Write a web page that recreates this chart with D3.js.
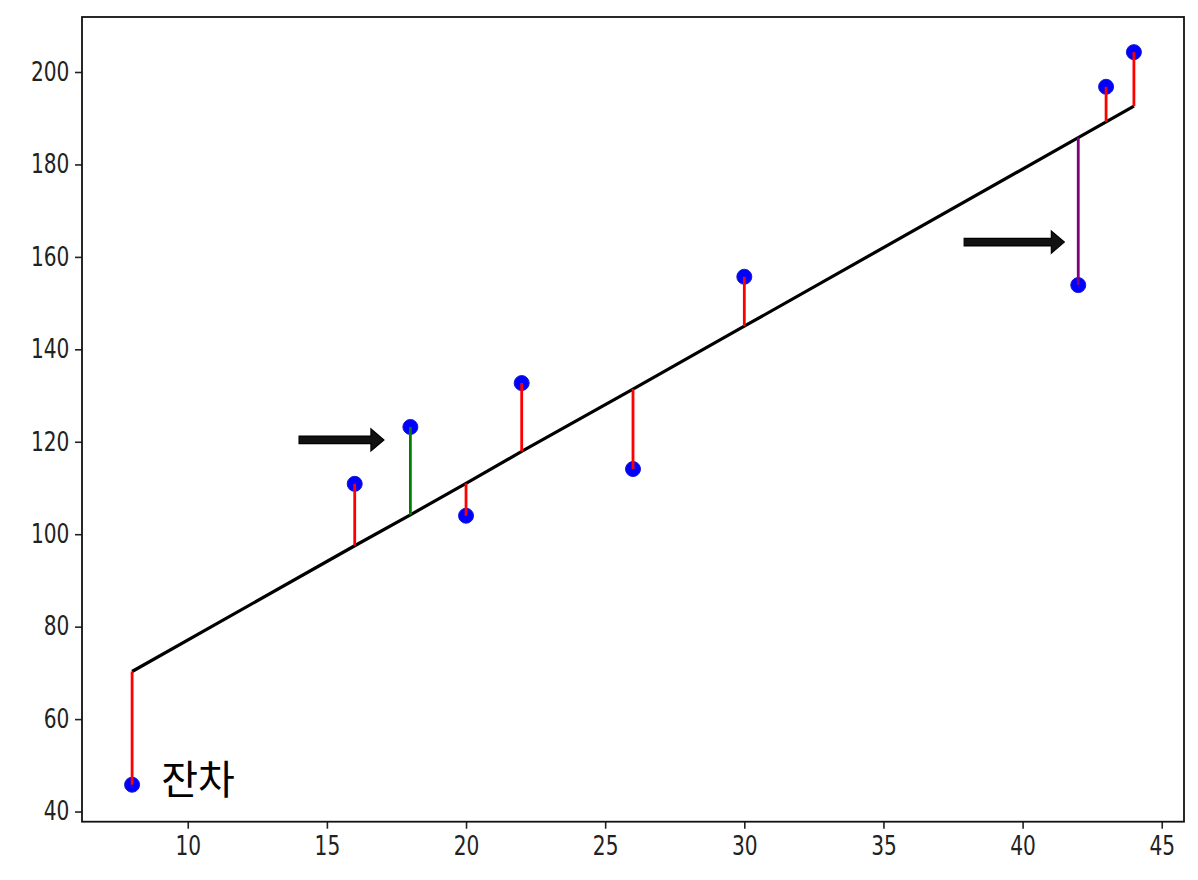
<!DOCTYPE html>
<html lang="ko">
<head>
<meta charset="UTF-8">
<title>잔차</title>
<script src="https://d3js.org/d3.v7.min.js"></script>
<style>
    body { margin: 0; background: #fff; }
    svg { display: block; }
    .tick text { font-family: "DejaVu Sans", sans-serif; fill: #222; }
</style>
</head>
<body>
<div id="chart"></div>
<script>
    // data
    const xs     = [8, 16, 18, 20, 22, 26, 30, 42, 43, 44];
    const ys     = [45.8, 110.9, 123.2, 104.0, 132.7, 114.1, 155.7, 153.9, 196.8, 204.3];
    const fitted = [70.3, 97.5, 104.2, 111.0, 117.9, 131.4, 145.0, 185.8, 189.2, 192.6];
    const residualColors = ["red", "red", "green", "red", "red", "red", "red", "purple", "red", "red"];
    const xTicks = [10, 15, 20, 25, 30, 35, 40, 45];
    const yTicks = [40, 60, 80, 100, 120, 140, 160, 180, 200];
    // arrows: [x start, x tip, y]
    const arrows = [[14.0, 17.05, 120.4], [37.9, 41.5, 163.2]];
    const label = { text: "잔차", x: 9.05, y: 43.8 };

    const W = 1198, H = 880;
    const mLeft = 82, mRight = 1184, mTop = 17, mBottom = 821.7;

    const svg = d3.select("#chart").append("svg")
        .attr("width", W).attr("height", H);

    const x = d3.scaleLinear().domain([6.2, 45.8]).range([mLeft, mRight]);
    const y = d3.scaleLinear().domain([37.8, 211.9]).range([mBottom, mTop]);

    // axes
    const xAxis = svg.append("g")
        .attr("transform", `translate(0,${mBottom})`)
        .call(d3.axisBottom(x).tickValues(xTicks).tickSize(7).tickPadding(7));
    xAxis.select(".domain").remove();
    xAxis.selectAll(".tick line").attr("stroke", "#222").attr("stroke-width", 1.6);
    xAxis.selectAll(".tick text")
        .attr("font-size", 24)
        .attr("transform", "scale(0.84,1.08)");

    const yAxis = svg.append("g")
        .attr("transform", `translate(${mLeft},0)`)
        .call(d3.axisLeft(y).tickValues(yTicks).tickSize(7).tickPadding(8));
    yAxis.select(".domain").remove();
    yAxis.selectAll(".tick line").attr("stroke", "#222").attr("stroke-width", 1.6);
    yAxis.selectAll(".tick text")
        .attr("font-size", 24)
        .attr("transform", "scale(0.84,1.08)");

    // points
    svg.append("g").selectAll("circle")
        .data(xs)
        .join("circle")
        .attr("cx", d => x(d))
        .attr("cy", (d, i) => y(ys[i]))
        .attr("r", 7.5)
        .attr("fill", "#0000ff")
        .attr("stroke", "#1a1acc")
        .attr("stroke-width", 1);

    // regression line
    const line = d3.line()
        .x(d => x(d))
        .y((d, i) => y(fitted[i]));
    svg.append("path")
        .datum(xs)
        .attr("fill", "none")
        .attr("stroke", "#000")
        .attr("stroke-width", 3.2)
        .attr("d", line);

    // residuals
    svg.append("g").selectAll("line")
        .data(xs)
        .join("line")
        .attr("x1", d => x(d))
        .attr("x2", d => x(d))
        .attr("y1", (d, i) => y(ys[i]))
        .attr("y2", (d, i) => y(fitted[i]))
        .attr("stroke", (d, i) => residualColors[i])
        .attr("stroke-width", 2.8);

    // arrows
    svg.append("g").selectAll("path")
        .data(arrows)
        .join("path")
        .attr("d", d => {
            const x0 = x(d[0]), x1 = x(d[1]), yy = y(d[2]);
            const hb = x1 - 13, sh = 3.8, hh = 11;
            return `M${x0},${yy - sh}L${hb},${yy - sh}L${hb},${yy - hh}L${x1},${yy}` +
                   `L${hb},${yy + hh}L${hb},${yy + sh}L${x0},${yy + sh}Z`;
        })
        .attr("fill", "#111")
        .attr("stroke", "#000")
        .attr("stroke-width", 1.2)
        .attr("stroke-linejoin", "miter");

    // label
    svg.append("text")
        .attr("x", x(label.x))
        .attr("y", y(label.y))
        .attr("font-family", "'Noto Sans CJK KR', sans-serif")
        .attr("font-size", 40)
        .attr("fill", "#000")
        .text(label.text);

    // frame
    svg.append("rect")
        .attr("x", mLeft).attr("y", mTop)
        .attr("width", mRight - mLeft).attr("height", mBottom - mTop)
        .attr("fill", "none")
        .attr("stroke", "#111")
        .attr("stroke-width", 1.8);
</script>
</body>
</html>
